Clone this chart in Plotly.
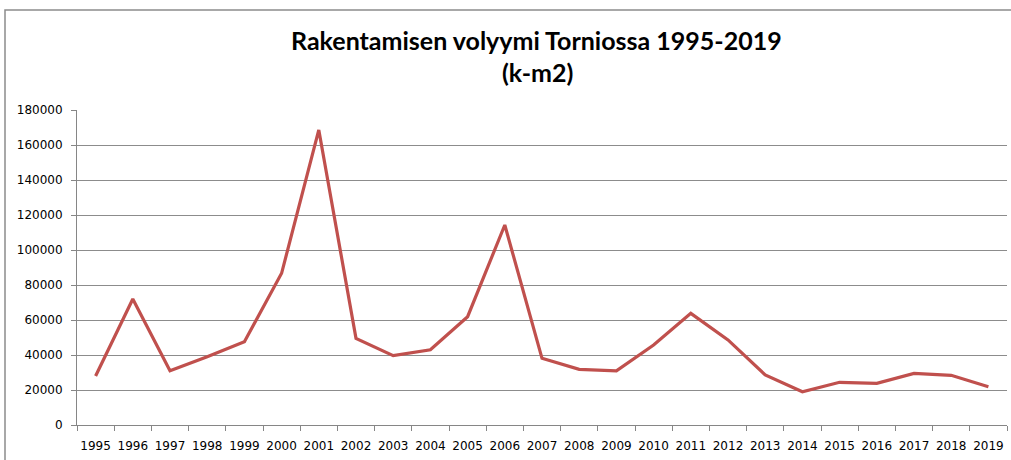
import plotly.graph_objects as go

years = [str(y) for y in range(1995, 2020)]
volume = [28000, 72000, 31000, 39000, 47600, 86700, 168600, 49500, 39600, 43000,
          61900, 114300, 38100, 31800, 30900, 45700, 63800, 48600, 28600, 19000,
          24400, 23800, 29500, 28400, 21900]
y_ticks = list(range(0, 180001, 20000))

W, H = 1011, 460
L, R, T, B = 77, 4, 110, 35
pw = W - L - R
ph = H - T - B

fig = go.Figure()
fig.add_trace(go.Scatter(x=years, y=volume, mode="lines",
                         line=dict(color="#C0504D", width=3.2), showlegend=False,
                         hoverinfo="x+y"))

fig.update_layout(
    width=W, height=H,
    margin=dict(l=L, r=R, t=T, b=B),
    paper_bgcolor="white", plot_bgcolor="white",
    font=dict(family="DejaVu Sans", size=12, color="#000000"),
    xaxis=dict(type="category", range=[-0.5, len(years) - 0.5], automargin=False,
               tickangle=0, showgrid=False, showline=True, linecolor="#868686",
               linewidth=1, ticks="outside", tickson="boundaries", ticklen=5,
               tickcolor="#868686", tickfont=dict(size=12), ticklabelstandoff=10,
               fixedrange=True),
    yaxis=dict(range=[0, 180000], tickvals=y_ticks, ticktext=[str(v) for v in y_ticks],
               automargin=False,
               showgrid=True, gridcolor="#8C8C8C", gridwidth=1, showline=True,
               linecolor="#868686", ticks="outside", ticklen=5, tickcolor="#868686",
               zeroline=False, tickfont=dict(size=12), ticklabelstandoff=6,
               fixedrange=True),
    shapes=[dict(type="rect", xref="paper", yref="paper",
                 x0=(5 - L) / pw, x1=(W + 20 - L) / pw,
                 y0=-(H + 20 - (H - B)) / ph, y1=((H - B) - 10) / ph,
                 line=dict(color="#8C8C8C", width=1.5), fillcolor="rgba(0,0,0,0)",
                 layer="below")],
    annotations=[
        dict(text="<b>Rakentamisen volyymi Torniossa 1995-2019</b>", xref="paper", yref="paper",
             x=(536 - L) / pw, y=((H - B) - 40) / ph, showarrow=False,
             xanchor="center", yanchor="middle",
             font=dict(family="Lato", size=25, color="#000000")),
        dict(text="<b>(k-m2)</b>", xref="paper", yref="paper",
             x=(537 - L) / pw, y=((H - B) - 72) / ph, showarrow=False,
             xanchor="center", yanchor="middle",
             font=dict(family="Lato", size=25, color="#000000")),
    ],
)

fig.write_html("out.html", config={"displayModeBar": False},
               post_script="document.body.style.margin='0';")
